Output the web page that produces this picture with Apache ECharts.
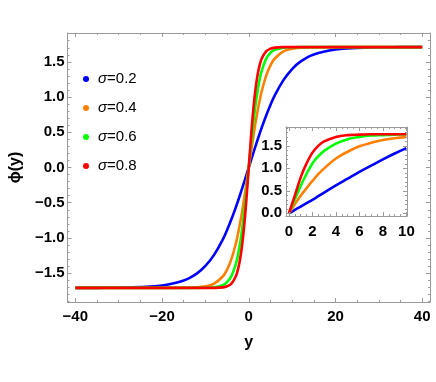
<!DOCTYPE html>
<html>
<head>
<meta charset="utf-8">
<script src="https://cdn.jsdelivr.net/npm/echarts@6/dist/echarts.min.js"></script>
<style>html,body{margin:0;padding:0;background:#fff}#c{width:436px;height:382px}</style>
</head>
<body>
<div id="c"></div>
<script>
// ---- Main plot data ----
var xMain = [-40,-35,-30,-25,-20,-15,-12,-10,-8,-6,-5,-4,-3,-2.5,-2,-1.5,-1,-0.5,0,0.5,1,1.5,2,2.5,3,4,5,6,8,10,12,15,20,25,30,35,40];
var mainS02 = [-1.710,-1.709,-1.707,-1.699,-1.676,-1.605,-1.507,-1.398,-1.241,-1.023,-0.887,-0.735,-0.568,-0.479,-0.387,-0.292,-0.196,-0.098,0,0.098,0.196,0.292,0.387,0.479,0.568,0.735,0.887,1.023,1.241,1.398,1.507,1.605,1.676,1.699,1.707,1.709,1.710];
var mainS04 = [-1.710,-1.710,-1.710,-1.710,-1.710,-1.708,-1.702,-1.687,-1.648,-1.548,-1.451,-1.302,-1.086,-0.948,-0.790,-0.613,-0.419,-0.213,0,0.213,0.419,0.613,0.790,0.948,1.086,1.302,1.451,1.548,1.648,1.687,1.702,1.708,1.710,1.710,1.710,1.710,1.710];
var mainS06 = [-1.710,-1.710,-1.710,-1.710,-1.710,-1.710,-1.710,-1.708,-1.701,-1.670,-1.627,-1.542,-1.375,-1.245,-1.076,-0.862,-0.605,-0.313,0,0.313,0.605,0.862,1.076,1.245,1.375,1.542,1.627,1.670,1.701,1.708,1.710,1.710,1.710,1.710,1.710,1.710,1.710];
var mainS08 = [-1.710,-1.710,-1.710,-1.710,-1.710,-1.710,-1.710,-1.710,-1.709,-1.702,-1.687,-1.648,-1.548,-1.451,-1.302,-1.086,-0.790,-0.419,0,0.419,0.790,1.086,1.302,1.451,1.548,1.648,1.687,1.702,1.709,1.710,1.710,1.710,1.710,1.710,1.710,1.710,1.710];

// ---- Inset data ----
var xInset = [0,0.5,1,1.5,2,2.5,3,4,5,6,7,8,9,10];
var insS02 = [0,0.075,0.15,0.225,0.30,0.38,0.46,0.62,0.77,0.92,1.06,1.20,1.33,1.45];
var insS04 = [0,0.20,0.39,0.56,0.72,0.87,1.00,1.22,1.37,1.49,1.57,1.63,1.67,1.70];
var insS06 = [0,0.31,0.61,0.88,1.11,1.27,1.39,1.55,1.65,1.70,1.73,1.74,1.75,1.76];
var insS08 = [0,0.39,0.80,1.11,1.35,1.50,1.60,1.70,1.74,1.75,1.76,1.76,1.76,1.76];

var seriesNames = ['σ=0.2','σ=0.4','σ=0.6','σ=0.8'];
var colors = ['#0000ff','#ff8000','#00ff00','#ff0000'];

var yTickFmt = function(v){ var s = v.toFixed(1); return s.replace('-', '−'); };
var xTickFmt = function(v){ return String(Math.round(v)).replace('-', '−'); };

function pairs(xs, ys){ return xs.map(function(x,i){ return [x, ys[i]]; }); }

var frameColor = '#9a9a9a';
var fontFam = 'Liberation Sans, Arial, sans-serif';

function axisCommon(extra){
  var base = {
    axisLine:{show:true, onZero:false, lineStyle:{color:frameColor, width:1}},
    axisTick:{show:true, inside:true, length:4, lineStyle:{color:frameColor}},
    minorTick:{show:true, length:2, lineStyle:{color:frameColor}},
    splitLine:{show:false},
    axisLabel:{show:false}
  };
  for (var k in extra) base[k] = extra[k];
  return base;
}

var chart = echarts.init(document.getElementById('c'), null, {renderer:'canvas'});
var datasets = [mainS02, mainS04, mainS06, mainS08];
var insets = [insS02, insS04, insS06, insS08];

var series = [];
datasets.forEach(function(d,i){
  series.push({name:seriesNames[i], type:'line', xAxisIndex:0, yAxisIndex:0, data:pairs(xMain,d),
    showSymbol:false, symbol:'none', smooth:0.4, lineStyle:{color:colors[i], width:2.6}, itemStyle:{color:colors[i]}, z:2+i, animation:false});
});
insets.forEach(function(d,i){
  series.push({name:seriesNames[i], type:'line', xAxisIndex:2, yAxisIndex:2, data:pairs(xInset,d),
    showSymbol:false, symbol:'none', smooth:0.4, lineStyle:{color:colors[i], width:2.6}, itemStyle:{color:colors[i]}, z:12+i, animation:false});
});

var option = {
  animation:false,
  backgroundColor:'#fff',
  legend:{
    data:seriesNames, orient:'vertical', left:78, top:66, itemGap:13,
    icon:'circle', itemWidth:14, itemHeight:6,
    formatter:function(n){ return '{i|σ}{n|' + n.slice(1) + '}'; },
    textStyle:{fontSize:15, lineHeight:16, color:'#000', fontFamily:fontFam,
      rich:{i:{fontStyle:'italic', fontSize:15, fontFamily:fontFam}, n:{fontSize:15, fontFamily:fontFam}}},
    selectedMode:false
  },
  grid:[
    {left:57, top:33, width:373, height:269, show:false},
    {left:286, top:127, width:121, height:89, show:true, backgroundColor:'#fff', borderWidth:0, z:10}
  ],
  xAxis:[
    axisCommon({gridIndex:0, type:'value', position:'bottom', min:-41.8, max:41.8, splitNumber:4,
      minorTick:{show:true, splitNumber:4, length:2, lineStyle:{color:frameColor}},
      axisLabel:{show:true, margin:7, showMinLabel:false, showMaxLabel:false, formatter:xTickFmt, color:'#000', fontFamily:fontFam, fontWeight:'bold', fontSize:15},
      name:'y', nameLocation:'middle', nameGap:33, nameTextStyle:{color:'#000', fontWeight:'bold', fontSize:16, fontFamily:fontFam}}),
    axisCommon({gridIndex:0, type:'value', position:'top', min:-41.8, max:41.8, splitNumber:4,
      minorTick:{show:true, splitNumber:4, length:2, lineStyle:{color:frameColor}}}),
    axisCommon({gridIndex:1, type:'value', position:'bottom', min:-0.25, max:10.05, splitNumber:5, z:20,
      minorTick:{show:true, splitNumber:4, length:2, lineStyle:{color:frameColor}},
      axisLabel:{show:true, margin:8, showMinLabel:false, showMaxLabel:false, formatter:xTickFmt, color:'#000', fontFamily:fontFam, fontWeight:'bold', fontSize:15}}),
    axisCommon({gridIndex:1, type:'value', position:'top', min:-0.25, max:10.05, splitNumber:5, z:20,
      minorTick:{show:true, splitNumber:4, length:2, lineStyle:{color:frameColor}}})
  ],
  yAxis:[
    axisCommon({gridIndex:0, type:'value', position:'left', min:-1.91, max:1.91, splitNumber:8,
      minorTick:{show:true, splitNumber:5, length:2, lineStyle:{color:frameColor}},
      axisLabel:{show:true, margin:3, showMinLabel:false, showMaxLabel:false, formatter:yTickFmt, color:'#000', fontFamily:fontFam, fontWeight:'bold', fontSize:15},
      name:'ϕ(y)', nameLocation:'middle', nameGap:38, nameRotate:90, nameTextStyle:{color:'#000', fontWeight:'bold', fontSize:16, fontFamily:fontFam}}),
    axisCommon({gridIndex:0, type:'value', position:'right', min:-1.91, max:1.91, splitNumber:8,
      minorTick:{show:true, splitNumber:5, length:2, lineStyle:{color:frameColor}}}),
    axisCommon({gridIndex:1, type:'value', position:'left', min:-0.06, max:1.92, splitNumber:4, z:20,
      minorTick:{show:true, splitNumber:5, length:2, lineStyle:{color:frameColor}},
      axisLabel:{show:true, margin:4, showMinLabel:false, showMaxLabel:false, formatter:yTickFmt, color:'#000', fontFamily:fontFam, fontWeight:'bold', fontSize:15}}),
    axisCommon({gridIndex:1, type:'value', position:'right', min:-0.06, max:1.92, splitNumber:4, z:20,
      minorTick:{show:true, splitNumber:5, length:2, lineStyle:{color:frameColor}}})
  ],
  series:series
};
chart.setOption(option);
</script>
</body>
</html>
